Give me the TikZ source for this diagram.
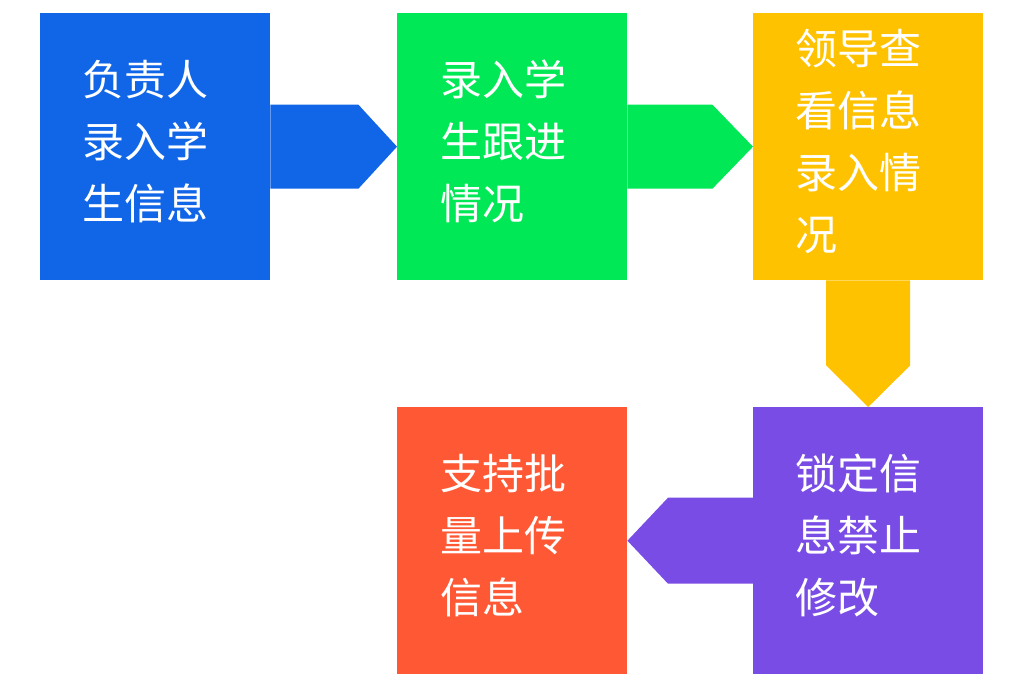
\documentclass[tikz,border=0pt]{standalone}
\usepackage{fontspec}
\newfontfamily\cjk{Noto Sans CJK SC}
\usetikzlibrary{calc}
\definecolor{cblue}{RGB}{17,102,232}
\definecolor{cgreen}{RGB}{0,232,85}
\definecolor{cyellow}{RGB}{255,194,0}
\definecolor{cpurple}{RGB}{122,76,230}
\definecolor{cred}{RGB}{255,88,52}
\tikzset{
  box/.style={draw=none,minimum width=230pt,minimum height=267pt,inner sep=0pt},
  lbl/.style={text=white,font=\cjk\fontsize{42pt}{62pt}\selectfont,align=left,inner sep=0pt,anchor=north west}
}
\begin{document}
\begin{tikzpicture}[x=1pt,y=-1pt]
	\useasboundingbox (0,0) rectangle (1024,692);
	% boxes
	\node[box,fill=cblue,anchor=north west] (B1) at (40,13) {};
	\node[box,fill=cgreen,anchor=north west] (B2) at (397,13) {};
	\node[box,fill=cyellow,anchor=north west] (B3) at (753,13) {};
	\node[box,fill=cpurple,anchor=north west] (B4) at (753,407) {};
	\node[box,fill=cred,anchor=north west] (B5) at (397,407) {};
	% arrows
	\fill[cblue] ($(B1.east)+(0,-42)$) -- ++(88,0) -- (B2.west) -- ($(B1.east)+(88,42)$) -- ($(B1.east)+(0,42)$) -- cycle;
	\fill[cgreen] ($(B2.east)+(0,-42)$) -- ++(85,0) -- (B3.west) -- ($(B2.east)+(85,42)$) -- ($(B2.east)+(0,42)$) -- cycle;
	\fill[cyellow] ($(B3.south)+(-42,0)$) -- ++(0,85) -- (B4.north) -- ($(B3.south)+(42,85)$) -- ($(B3.south)+(42,0)$) -- cycle;
	\fill[cpurple] ($(B4.west)+(0,-43)$) -- ++(-85,0) -- (B5.east) -- ($(B4.west)+(-85,43)$) -- ($(B4.west)+(0,43)$) -- cycle;
	% texts
	\node[lbl] (T1) at (82,60) {负责人\\录入学\\生信息};
	\node[lbl] (T2) at (440,60) {录入学\\生跟进\\情况};
	\node[lbl] (T3) at (795,29) {领导查\\看信息\\录入情\\况};
	\node[lbl] (T4) at (795,454) {锁定信\\息禁止\\修改};
	\node[lbl] (T5) at (440,454) {支持批\\量上传\\信息};
\end{tikzpicture}
\end{document}
